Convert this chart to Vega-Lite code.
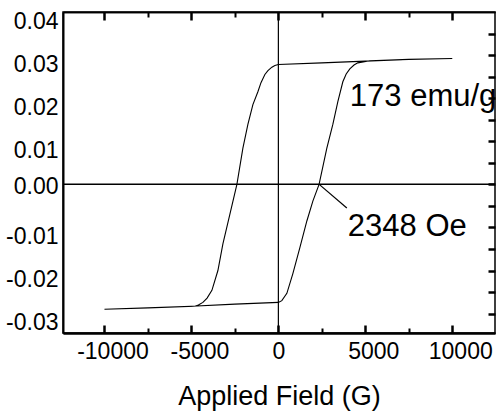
{
  "$schema": "https://vega.github.io/schema/vega-lite/v6.json",
  "width": 432,
  "height": 321,
  "autosize": "none",
  "padding": {"left": 63, "top": 12, "right": 4, "bottom": 85},
  "background": "white",
  "config": {
    "view": {"stroke": "black", "strokeWidth": 1.5},
    "font": "Liberation Sans",
    "axis": {"grid": false, "domainColor": "black", "tickColor": "black", "labelColor": "black", "titleColor": "black", "labelFont": "Liberation Sans", "titleFont": "Liberation Sans"}
  },
  "datasets": {
    "loop": [
      {"i": 1, "H": 10000, "M": 0.0292},
      {"i": 2, "H": 7500, "M": 0.0290},
      {"i": 3, "H": 5000, "M": 0.0286},
      {"i": 4, "H": 2500, "M": 0.0282},
      {"i": 5, "H": 0, "M": 0.0278},
      {"i": 6, "H": -200, "M": 0.0276},
      {"i": 7, "H": -374, "M": 0.0272},
      {"i": 8, "H": -600, "M": 0.0264},
      {"i": 9, "H": -776, "M": 0.0255},
      {"i": 10, "H": -1000, "M": 0.0236},
      {"i": 11, "H": -1178, "M": 0.0215},
      {"i": 12, "H": -1465, "M": 0.0185},
      {"i": 13, "H": -1753, "M": 0.0139},
      {"i": 14, "H": -2040, "M": 0.0084},
      {"i": 15, "H": -2385, "M": 0.0},
      {"i": 16, "H": -2787, "M": -0.0069},
      {"i": 17, "H": -3190, "M": -0.0138},
      {"i": 18, "H": -3477, "M": -0.0200},
      {"i": 19, "H": -3822, "M": -0.0246},
      {"i": 20, "H": -4100, "M": -0.0264},
      {"i": 21, "H": -4339, "M": -0.0274},
      {"i": 22, "H": -4600, "M": -0.0280},
      {"i": 23, "H": -4800, "M": -0.0283},
      {"i": 24, "H": -7500, "M": -0.0287},
      {"i": 25, "H": -10000, "M": -0.0290},
      {"i": 26, "H": -5000, "M": -0.0283},
      {"i": 27, "H": -2500, "M": -0.0278},
      {"i": 28, "H": 0, "M": -0.0274},
      {"i": 29, "H": 200, "M": -0.0270},
      {"i": 30, "H": 488, "M": -0.0253},
      {"i": 31, "H": 833, "M": -0.0207},
      {"i": 32, "H": 1236, "M": -0.0147},
      {"i": 33, "H": 1638, "M": -0.0085},
      {"i": 34, "H": 1983, "M": -0.0039},
      {"i": 35, "H": 2340, "M": 0.0},
      {"i": 36, "H": 2787, "M": 0.0084},
      {"i": 37, "H": 3132, "M": 0.0139},
      {"i": 38, "H": 3420, "M": 0.0192},
      {"i": 39, "H": 3707, "M": 0.0238},
      {"i": 40, "H": 3900, "M": 0.0256},
      {"i": 41, "H": 4109, "M": 0.0268},
      {"i": 42, "H": 4350, "M": 0.0277},
      {"i": 43, "H": 4569, "M": 0.0282},
      {"i": 44, "H": 5259, "M": 0.0287},
      {"i": 45, "H": 7500, "M": 0.0290},
      {"i": 46, "H": 10000, "M": 0.0292}
    ],
    "zero": [{"z": 0}],
    "notes": [
      {"H": 4109, "M": 0.0181, "text": "173 emu/g"},
      {"H": 3994, "M": -0.0119, "text": "2348 Oe"}
    ],
    "leader": [
      {"H": 2348, "M": 0.0, "H2": 3937, "M2": -0.0055}
    ]
  },
  "layer": [
    {
      "data": {"name": "loop"},
      "mark": {"type": "line", "color": "black", "strokeWidth": 1.1},
      "encoding": {
        "x": {
          "field": "H", "type": "quantitative",
          "scale": {"domain": [-12385, 12457], "nice": false, "zero": false},
          "axis": {
            "orient": "bottom",
            "values": [-10000, -5000, 0, 5000, 10000],
            "domainWidth": 2,
            "tickSize": -8,
            "tickColor": "black",
            "tickWidth": 2.5,
            "labelExpr": "'' + datum.value",
            "labelFontSize": 23,
            "labelPadding": 15,
            "labelOffset": {"condition": {"test": "datum.value === 0", "value": 0}, "value": 8},
            "title": "Applied Field (G)",
            "titleFontSize": 27,
            "titleFontWeight": "normal",
            "titlePadding": 20
          }
        },
        "y": {
          "field": "M", "type": "quantitative",
          "scale": {"domain": [-0.0345, 0.04], "nice": false, "zero": false},
          "axis": {
            "orient": "left",
            "values": [-0.03, -0.02, -0.01, 0, 0.01, 0.02, 0.03, 0.04],
            "domainWidth": 2,
            "tickSize": 0,
            "labelExpr": "replace(format(datum.value, '.2f'), '\u2212', '-')",
            "labelFontSize": 23,
            "labelPadding": 5,
            "labelOffset": {"condition": {"test": "datum.value === 0", "value": 2}, "value": 9},
            "title": null
          }
        },
        "order": {"field": "i", "type": "quantitative"}
      }
    },
    {
      "data": {"name": "zero"},
      "mark": {"type": "rule", "color": "black", "strokeWidth": 1.5},
      "encoding": {
        "y": {
          "field": "z", "type": "quantitative",
          "axis": {
            "orient": "right",
            "values": [-0.03, -0.025, -0.02, -0.015, -0.01, -0.005, 0, 0.005, 0.01, 0.015, 0.02, 0.025, 0.03, 0.035],
            "offset": -7,
            "tickSize": 7,
            "tickColor": "black",
            "tickWidth": 2.5,
            "domain": false,
            "labels": false,
            "title": null
          }
        }
      }
    },
    {
      "data": {"name": "zero"},
      "mark": {"type": "rule", "color": "black", "strokeWidth": 1.2},
      "encoding": {
        "x": {
          "field": "z", "type": "quantitative",
          "axis": {
            "orient": "top",
            "values": [-10000, -5000, 0, 5000, 10000],
            "tickSize": -8,
            "tickColor": "black",
            "tickWidth": 2.5,
            "domainColor": "black",
            "domainWidth": 1.5,
            "labels": false,
            "title": null
          }
        }
      }
    },
    {
      "data": {"name": "leader"},
      "mark": {"type": "rule", "color": "black", "strokeWidth": 1.2},
      "encoding": {
        "x": {
          "field": "H", "type": "quantitative",
          "axis": {
            "orient": "bottom",
            "values": [-7500, -2500, 2500, 7500],
            "tickSize": -5,
            "tickColor": "black",
            "tickWidth": 2,
            "domainColor": "black",
            "domainWidth": 2,
            "labels": false,
            "title": null
          }
        },
        "y": {"field": "M", "type": "quantitative", "axis": null},
        "x2": {"field": "H2"},
        "y2": {"field": "M2"}
      }
    },
    {
      "data": {"name": "notes"},
      "mark": {"type": "text", "align": "left", "baseline": "alphabetic", "fontSize": 31, "font": "Liberation Sans", "color": "black"},
      "encoding": {
        "x": {
          "field": "H", "type": "quantitative",
          "axis": {
            "orient": "top",
            "values": [-7500, -2500, 2500, 7500],
            "tickSize": -5,
            "tickColor": "black",
            "tickWidth": 2,
            "domainColor": "black",
            "domainWidth": 1.5,
            "labels": false,
            "title": null
          }
        },
        "y": {"field": "M", "type": "quantitative", "axis": null},
        "text": {"field": "text"}
      }
    }
  ],
  "resolve": {"axis": {"x": "independent", "y": "independent"}}
}
